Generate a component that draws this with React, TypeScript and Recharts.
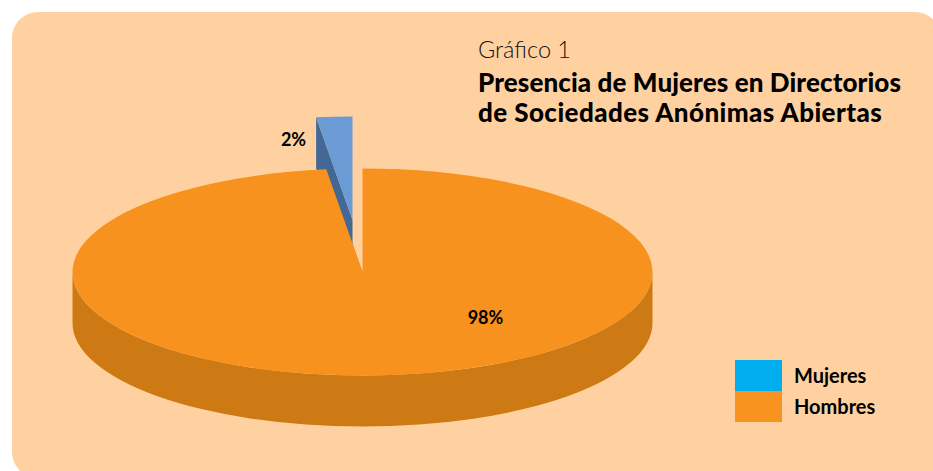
import { PieChart, Pie, Cell, Legend } from "recharts"

const categories = ["Mujeres", "Hombres"]
const shares = [2, 98]
const titleLine = "Gráfico 1"
const headingLines = ["Presencia de Mujeres en Directorios", "de Sociedades Anónimas Abiertas"]

const topColors = ["#6A9BD5", "#F8921E"]
const wallColors = ["#436895", "#CD7A14"]
const legendColors: Record<string, string> = { Mujeres: "#00ADEF", Hombres: "#F7931E" }
const labelOffsets = [
  { x: -69, y: -126 },
  { x: 123, y: 52 },
]
const headingSpacing = [0.1, 0.42]

const pieData = categories.map((name, i) => ({ name, value: shares[i] }))

const TILT = 0.357
const DEPTH = 51
const EXPLODE = [{ x: -10, y: -52 }, { x: 0, y: 0 }]
const FONT = "Lato, sans-serif"

function Slice3D(props: any) {
  const { cx, cy, outerRadius, startAngle, endAngle, index } = props
  const off = EXPLODE[index]
  const x0 = cx + off.x
  const y0 = cy + off.y
  const rx = outerRadius
  const ry = outerRadius * TILT
  const pt = (deg: number, dy = 0) => {
    const a = (deg * Math.PI) / 180
    return `${x0 + rx * Math.cos(a)} ${y0 - ry * Math.sin(a) + dy}`
  }
  const span = startAngle - endAngle
  const large = span > 180 ? 1 : 0
  const top = `M${x0} ${y0} L${pt(startAngle)} A${rx} ${ry} 0 ${large} 1 ${pt(endAngle)} Z`
  const cut = (deg: number) =>
    `M${x0} ${y0} L${pt(deg)} L${pt(deg, DEPTH)} L${x0} ${y0 + DEPTH} Z`
  const front =
    span > 180
      ? `M${pt(180)} A${rx} ${ry} 0 0 0 ${pt(0)} L${pt(0, DEPTH)} A${rx} ${ry} 0 0 1 ${pt(180, DEPTH)} Z`
      : null
  return (
    <g>
      <path d={cut(startAngle)} fill={wallColors[index]} />
      <path d={cut(endAngle)} fill={wallColors[index]} />
      {front && <path d={front} fill={wallColors[index]} />}
      <path d={top} fill={topColors[index]} />
    </g>
  )
}

function SliceLabel(props: any) {
  const { cx, cy, index, value } = props
  const o = labelOffsets[index]
  return (
    <text
      x={cx + o.x}
      y={cy + o.y}
      textAnchor="middle"
      fontFamily={FONT}
      fontWeight={700}
      fontSize={18}
      fill="#000"
    >
      {value}%
    </text>
  )
}

function LegendBox() {
  return (
    <div>
      {categories.map((name) => (
        <div key={name} style={{ display: "flex", alignItems: "center", height: 31 }}>
          <div style={{ width: 47, height: 31, background: legendColors[name] }} />
          <span
            style={{
              marginLeft: 12,
              marginTop: -2,
              fontFamily: FONT,
              fontWeight: 700,
              fontSize: 20,
              color: "#000",
            }}
          >
            {name}
          </span>
        </div>
      ))}
    </div>
  )
}

export default function App() {
  return (
    <div style={{ position: "absolute", left: 0, top: 0, width: 933, height: 471, overflow: "hidden", background: "#fff" }}>
      <div
        style={{
          position: "absolute",
          left: 12,
          top: 12,
          width: 929,
          height: 466,
          borderRadius: 26,
          background: "#FFD1A1",
        }}
      />
      <div style={{ position: "absolute", left: 0, top: 0 }}>
        <PieChart width={933} height={471} margin={{ top: 0, right: 0, bottom: 0, left: 0 }}>
          <Pie
            data={pieData}
            dataKey="value"
            nameKey="name"
            cx={362.5}
            cy={272}
            outerRadius={290}
            startAngle={97.2}
            endAngle={-262.8}
            stroke="none"
            shape={Slice3D}
            label={SliceLabel}
            labelLine={false}
            isAnimationActive={false}
          >
            {pieData.map((d, i) => (
              <Cell key={d.name} fill={topColors[i]} />
            ))}
          </Pie>
          <Legend
            layout="vertical"
            align="center"
            verticalAlign="middle"
            content={<LegendBox />}
            wrapperStyle={{ left: 735, top: 360, width: 190 }}
          />
          <text x={478} y={58} fontFamily={FONT} fontWeight={300} fontSize={23.5} fill="#111">
            {titleLine}
          </text>
          {headingLines.map((line, i) => (
            <text key={line} x={478} y={92 + i * 30} fontFamily={FONT} fontWeight={900} fontSize={26} letterSpacing={headingSpacing[i]} fill="#000">
              {line}
            </text>
          ))}
        </PieChart>
      </div>
    </div>
  )
}
